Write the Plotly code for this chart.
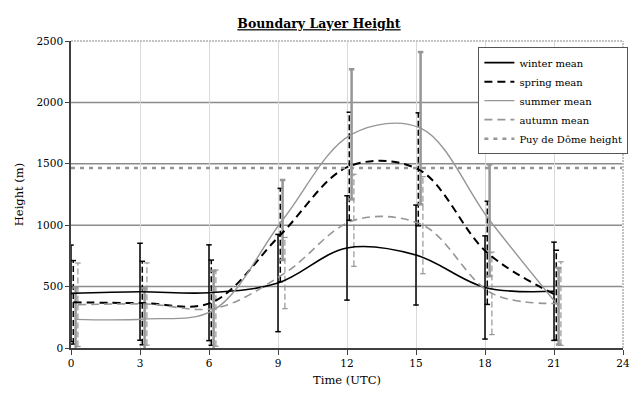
import plotly.graph_objects as go

times = [0, 3, 6, 9, 12, 15, 18, 21]
winter = [445, 458, 450, 529, 815, 757, 493, 462]
spring = [372, 366, 369, 920, 1480, 1455, 775, 430]
summer = [233, 236, 309, 1042, 1740, 1790, 1040, 340]
autumn = [352, 358, 325, 610, 1040, 1000, 445, 362]
winter_err = [393, 395, 390, 396, 425, 407, 420, 400]
spring_err = [340, 340, 347, 380, 440, 460, 420, 366]
summer_err = [260, 250, 320, 326, 530, 620, 455, 312]
autumn_err = [340, 335, 310, 290, 375, 395, 336, 340]
puy_height = 1465
x_ticks = [0, 3, 6, 9, 12, 15, 18, 21, 24]
y_ticks = [0, 500, 1000, 1500, 2000, 2500]

FONT = "DejaVu Serif"
GRAY = "#969696"

series = [
    ("winter mean", winter, winter_err, 0.0, dict(color="black", width=1.6), dict(color="black", width=1.5)),
    ("spring mean", spring, spring_err, 0.1, dict(color="black", width=2, dash="8px,5px"), dict(color="black", width=1.5, dash="6px,3px")),
    ("summer mean", summer, summer_err, 0.2, dict(color=GRAY, width=1.4), dict(color=GRAY, width=2.5)),
    ("autumn mean", autumn, autumn_err, 0.3, dict(color=GRAY, width=1.6, dash="8px,5px"), dict(color=GRAY, width=1.2, dash="6px,3px")),
]

fig = go.Figure()
cap = 0.12
for name, vals, errs, off, lstyle, estyle in series:
    xs = [t + off for t in times]
    ex, ey = [], []
    for x, v, e in zip(xs, vals, errs):
        ex += [x, x, None, x - cap, x + cap, None, x - cap, x + cap, None]
        ey += [v - e, v + e, None, v + e, v + e, None, v - e, v - e, None]
    fig.add_trace(go.Scatter(x=ex, y=ey, mode="lines", line=estyle, showlegend=False, hoverinfo="skip"))

for name, vals, errs, off, lstyle, estyle in series:
    xs = [t + off for t in times]
    fig.add_trace(go.Scatter(x=xs, y=vals, mode="lines", name=name,
                             line=dict(shape="spline", smoothing=1.0, **lstyle)))

fig.add_trace(go.Scatter(x=[x_ticks[0], x_ticks[-1]], y=[puy_height, puy_height], mode="lines",
                         name="Puy de Dôme height",
                         line=dict(color=GRAY, width=2.5, dash="4px,5px")))

shapes = []
for g in y_ticks[1:-1]:
    shapes.append(dict(type="line", xref="paper", x0=0, x1=1, yref="y", y0=g, y1=g,
                       line=dict(color="#8c8c8c", width=1.5), layer="below"))
# plot-area border top/right (dotted)
shapes.append(dict(type="line", xref="paper", yref="paper", x0=0, x1=1, y0=1, y1=1,
                   line=dict(color="white", width=2)))
shapes.append(dict(type="line", xref="paper", yref="paper", x0=1, x1=1, y0=0, y1=1,
                   line=dict(color="white", width=2)))
shapes.append(dict(type="line", xref="paper", yref="paper", x0=0, x1=1, y0=1, y1=1,
                   line=dict(color="#888888", width=1, dash="2px,1px")))
shapes.append(dict(type="line", xref="paper", yref="paper", x0=1, x1=1, y0=0, y1=1,
                   line=dict(color="#888888", width=1, dash="2px,1px")))

fig.update_layout(
    width=638, height=397,
    margin=dict(l=71, r=8, t=41, b=49),
    paper_bgcolor="white", plot_bgcolor="white",
    font=dict(family=FONT, size=10, color="black"),
    title=dict(text="<b>Boundary Layer Height</b>", x=0.5, xanchor="center", y=0.94, yanchor="middle",
               font=dict(family=FONT, size=12.5, color="black", lineposition="under")),
    shapes=shapes,
    showlegend=True,
    legend=dict(x=0.738, y=0.98, xanchor="left", yanchor="top",
                bordercolor="#555555", borderwidth=1, bgcolor="white",
                font=dict(family=FONT, size=10), tracegroupgap=0, itemwidth=30),
    xaxis=dict(range=[0, 24], tickvals=x_ticks, showgrid=True, gridcolor="#d9d9d9", gridwidth=1,
               zeroline=False, showline=True, linecolor="#404040", linewidth=1.5,
               ticks="outside", ticklen=5, tickcolor="#404040",
               tickfont=dict(family=FONT, size=10.5),
               title=dict(text="Time (UTC)", font=dict(family=FONT, size=11.5), standoff=8)),
    yaxis=dict(range=[0, 2500], tickvals=y_ticks, showgrid=False,
               zeroline=False, showline=True, linecolor="#404040", linewidth=1.5,
               ticks="outside", ticklen=4, tickcolor="#404040",
               tickfont=dict(family=FONT, size=10.5),
               title=dict(text="Height (m)", font=dict(family=FONT, size=11.5), standoff=10)),
)

fig.write_html("out.html")
